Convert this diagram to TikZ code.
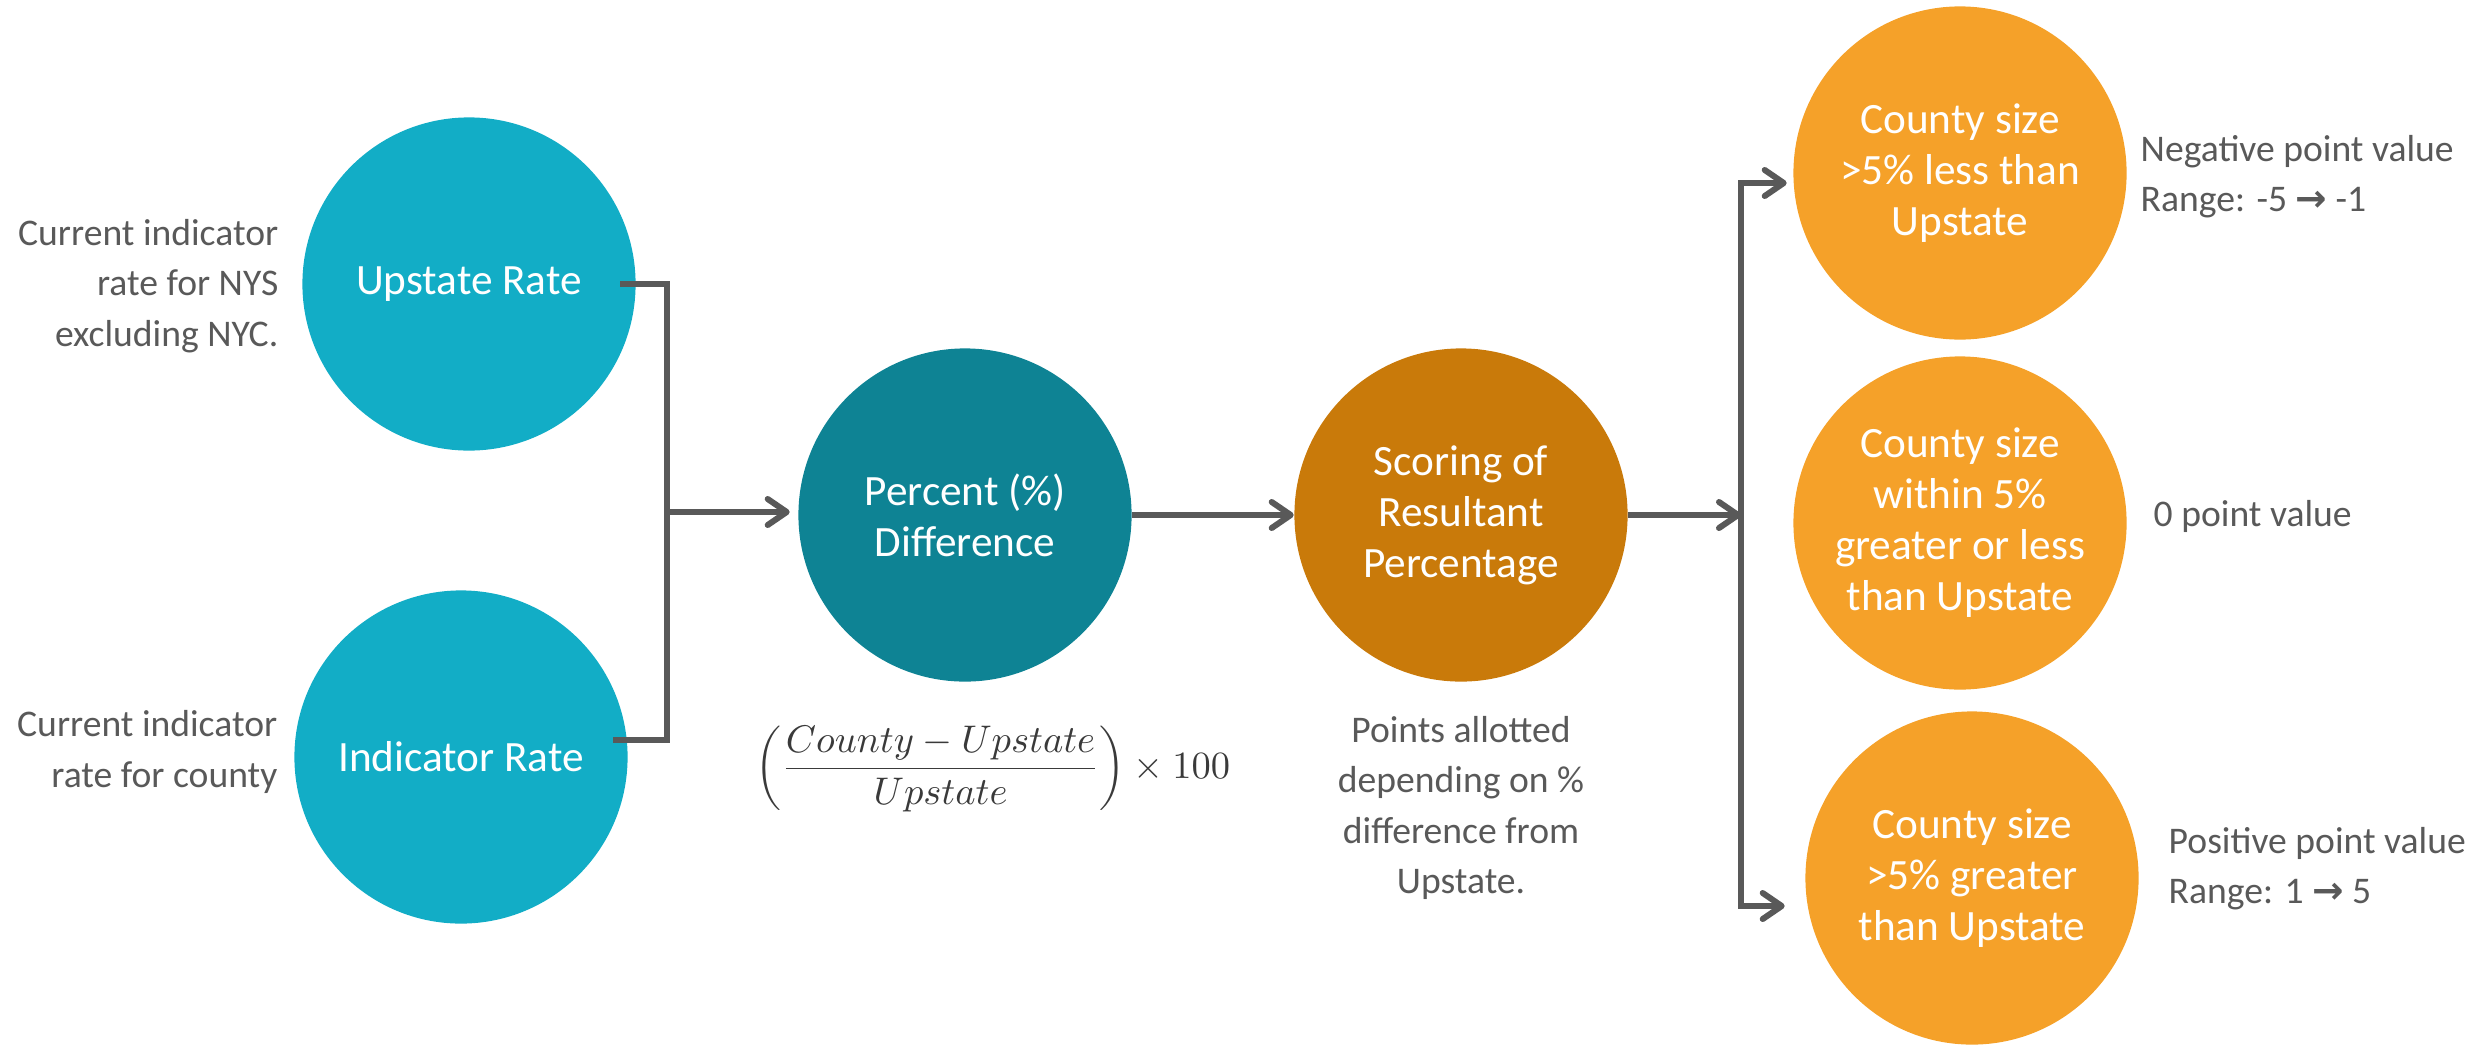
\documentclass[tikz,border=0pt]{standalone}
\usepackage{fontspec}
\setmainfont{Carlito}
\newfontfamily\arrowfont{DejaVu Sans}
\usetikzlibrary{arrows.meta}
\usetikzlibrary{calc}

\definecolor{ratecol}{HTML}{12ADC6}
\definecolor{diffcol}{HTML}{0E8394}
\definecolor{scorecol}{HTML}{C97A0A}
\definecolor{sizecol}{HTML}{F5A129}
\definecolor{greytxt}{HTML}{595959}
\definecolor{formulatxt}{HTML}{3A3A3A}

\begin{document}
\begin{tikzpicture}[x=0.01cm,y=-0.01cm]
\tikzstyle{bubble}=[circle,minimum size=3.33cm,inner sep=0pt,align=center,text=white,font=\fontsize{12.3}{14.5}\selectfont]
\tikzstyle{note}=[text=greytxt,inner sep=0pt,font=\fontsize{10.7}{14.3}\selectfont]
\tikzstyle{link}=[draw=greytxt,line width=0.6mm]
\tikzstyle{arr}=[link,-{Straight Barb[length=1.9mm,width=2.6mm,round]}]

\useasboundingbox (0,0) rectangle (2489,1045);

% circles
\node[bubble,fill=ratecol] (up) at (469,284) {Upstate Rate};
\node[bubble,fill=ratecol] (ind) at (461,757) {Indicator Rate};
\node[bubble,fill=diffcol] (pct) at (965,515) {Percent (\%)\\Difference};
\node[bubble,fill=scorecol] (sc) at (1461,515) {Scoring of\\Resultant\\Percentage};
\node[bubble,fill=sizecol] (c1) at (1960,173) {County size\\>5\% less than\\Upstate};
\node[bubble,fill=sizecol] (c2) at (1960,523) {County size\\within 5\%\\greater or less\\than Upstate};
\node[bubble,fill=sizecol] (c3) at (1972,878) {County size\\>5\% greater\\than Upstate};

% notes
\node[note,align=right,anchor=east] (upnote) at (279,286) {Current indicator\\rate for NYS\\excluding NYC.};
\node[note,align=right,anchor=east] (indnote) at (278,752) {Current indicator\\rate for county};
\node[note,text=formulatxt,font=\fontsize{10.6}{13}\selectfont] (formula) at (993,769)
  {$\displaystyle\left(\frac{County-Upstate}{Upstate}\right)\times 100$};
\node[note,align=center] (scnote) at (1461,808) {Points allotted\\depending on \%\\difference from\\Upstate.};
\node[note,align=left,anchor=west] (c1note) at (2140,177) {Negative point value\\Range: -5 {\arrowfont\bfseries →} -1};
\node[note,align=left,anchor=west] (c2note) at (2153,516) {0 point value};
\node[note,align=left,anchor=west] (c3note) at (2168,869) {Positive point value\\Range: 1 {\arrowfont\bfseries →} 5};

% connectors
\coordinate (jl) at (667,512);
\coordinate (jr) at (1741,515);
\draw[link] ([xshift=-0.16cm]up.east) -| (jl) |- ([xshift=-0.14cm]ind.6);
\draw[arr,shorten >=0.08cm] (jl) -- (pct.west|-jl);
\draw[arr] (pct.east) -- (sc.west);
\draw[arr] (sc.east) -- (jr);
\draw[arr] (jr) |- ($(c1.west)+(-6,10)$);
\draw[arr] (jr) |- ($(c3.west)+(-20,28)$);

\end{tikzpicture}
\end{document}
